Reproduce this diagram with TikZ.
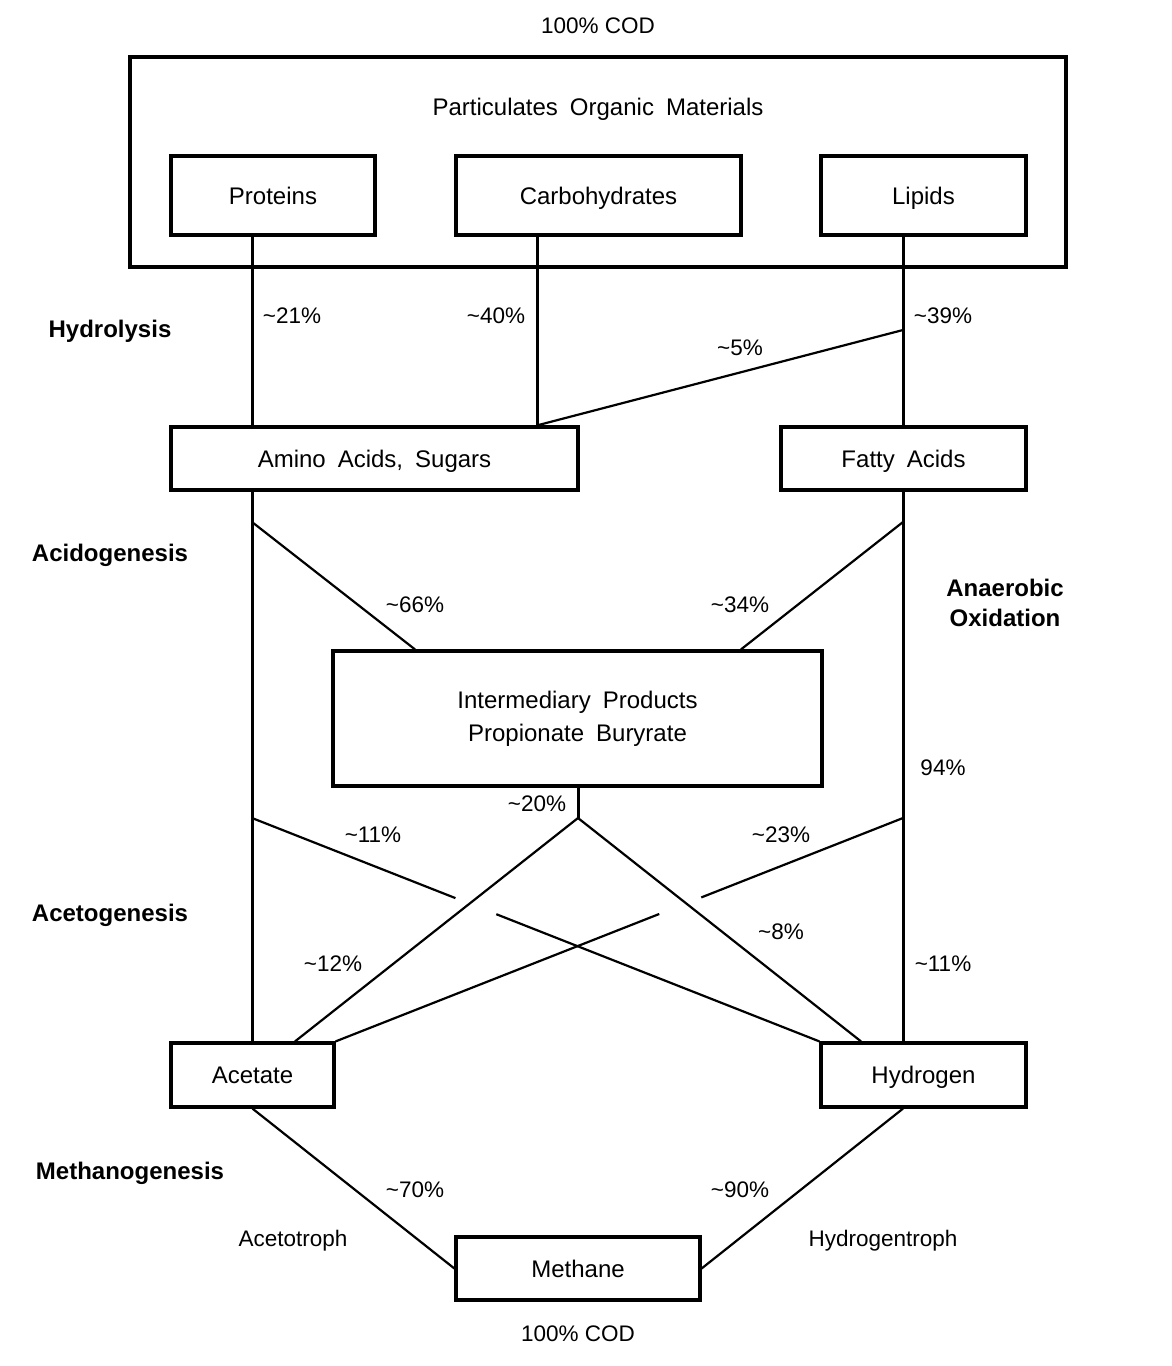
\documentclass[tikz,border=0pt]{standalone}
\usepackage{fontspec}
\setmainfont{Liberation Sans}
\usetikzlibrary{calc}
\newcommand\tld{\textasciitilde}
\newcommand\wgap{\hspace{0.5em}}
\begin{document}
\begin{tikzpicture}[x=1pt,y=-1pt,
  box/.style={draw,line width=3.2pt,inner sep=0pt,font=\fontsize{24}{28}\selectfont,text height=17pt,text depth=0pt},
  conn/.style={line width=3pt},
  thinconn/.style={line width=2.2pt},
  lbl/.style={font=\fontsize{22.5}{26}\selectfont,inner sep=0pt,text height=16pt,text depth=0pt},
  phase/.style={font=\bfseries\fontsize{24}{30}\selectfont,inner sep=0pt,align=center}]
\useasboundingbox (0,0) rectangle (1171,1366);
\fill[white] (0,0) rectangle (1171,1366);

% top
\node[lbl] (codtop) at (598,25) {100\% COD};
\node[box,minimum width=936pt,minimum height=210pt] (outer) at (598,162) {};
\node[lbl,font=\fontsize{24}{28}\selectfont,text height=17pt] (pom) at (598,107) {Particulates\wgap Organic\wgap Materials};
\node[box,minimum width=204pt,minimum height=79pt] (prot) at (273,195.5) {Proteins};
\node[box,minimum width=285pt,minimum height=79pt] (carb) at (598.5,195.5) {Carbohydrates};
\node[box,minimum width=205pt,minimum height=79pt] (lip) at (923.5,195.5) {Lipids};

% middle boxes
\node[box,minimum width=407pt,minimum height=63pt] (amino) at (374.5,458.5) {Amino\wgap Acids,\wgap Sugars};
\node[box,minimum width=245pt,minimum height=63pt] (fatty) at (903.5,458.5) {Fatty\wgap Acids};
\node[box,minimum width=489pt,minimum height=135pt,align=center,font=\fontsize{24}{33}\selectfont,text height=,text depth=] (inter) at (577.5,718.5) {Intermediary\wgap Products\\Propionate\wgap Buryrate};
\node[box,minimum width=163pt,minimum height=64pt] (acet) at (252.5,1075) {Acetate};
\node[box,minimum width=205pt,minimum height=64pt] (hyd) at (923.5,1075) {Hydrogen};
\node[box,minimum width=244pt,minimum height=63pt] (meth) at (578,1268.5) {Methane};

% reference x positions and junctions
\coordinate (xL) at (252,0);
\coordinate (xC) at (537,0);
\coordinate (xR) at (903,0);
\coordinate (xM) at (578,0);
\coordinate (j5) at (903,330);
\coordinate (jA1) at (252,522);
\coordinate (jB1) at (903,522);
\coordinate (jM) at (578,818);
\coordinate (jL2) at (252,818);
\coordinate (jR2) at (903,818);

% hydrolysis
\draw[conn] (prot.south -| xL) -- (amino.north -| xL);
\draw[conn] (carb.south -| xC) -- (amino.north -| xC);
\draw[conn] (lip.south -| xR) -- (fatty.north -| xR);
\draw[thinconn] (j5) -- (amino.north -| xC);

% acidogenesis / oxidation verticals
\draw[conn] (amino.south -| xL) -- (acet.north -| xL);
\draw[conn] (fatty.south -| xR) -- (hyd.north -| xR);
\draw[thinconn] (jA1) -- (inter.north -| 415,0);
\draw[thinconn] (jB1) -- (inter.north -| 741,0);

% acetogenesis
\draw[conn] (inter.south -| xM) -- (jM);
\draw[thinconn] (jM) -- (acet.north -| 295,0);
\draw[thinconn] (jM) -- (hyd.north -| 861,0);
\draw[thinconn] (jL2) -- ($(jL2)!0.3585!(hyd.north west)$);
\draw[thinconn] ($(jL2)!0.4306!(hyd.north west)$) -- (hyd.north west);
\draw[thinconn] (jR2) -- ($(jR2)!0.3556!(acet.north east)$);
\draw[thinconn] ($(jR2)!0.4296!(acet.north east)$) -- (acet.north east);

% methanogenesis
\draw[thinconn] (acet.south) -- (meth.west);
\draw[thinconn] (hyd.south -| xR) -- (meth.east);

% percentage labels
\node[lbl] (p21) at (292,315) {\tld 21\%};
\node[lbl] (p40) at (496,315) {\tld 40\%};
\node[lbl] (p39) at (943,315) {\tld 39\%};
\node[lbl] (p5) at (740,347) {\tld 5\%};
\node[lbl] (p66) at (415,604) {\tld 66\%};
\node[lbl] (p34) at (740,604) {\tld 34\%};
\node[lbl] (p94) at (943,767) {94\%};
\node[lbl] (p20) at (537,803) {\tld 20\%};
\node[lbl] (p11a) at (373,834) {\tld 11\%};
\node[lbl] (p23) at (781,834) {\tld 23\%};
\node[lbl] (p8) at (781,931) {\tld 8\%};
\node[lbl] (p12) at (333,963) {\tld 12\%};
\node[lbl] (p11b) at (943,963) {\tld 11\%};
\node[lbl] (p70) at (415,1189) {\tld 70\%};
\node[lbl] (p90) at (740,1189) {\tld 90\%};
\node[lbl] (acto) at (293,1238) {Acetotroph};
\node[lbl] (hyto) at (883,1238) {Hydrogentroph};
\node[lbl] (codbot) at (578,1333) {100\% COD};

% phase labels
\node[phase] (ph1) at (110,331) {Hydrolysis};
\node[phase] (ph2) at (110,555) {Acidogenesis};
\node[phase] (ph3) at (1005,603) {Anaerobic\\Oxidation};
\node[phase] (ph4) at (110,915) {Acetogenesis};
\node[phase] (ph5) at (130,1173) {Methanogenesis};
\end{tikzpicture}
\end{document}
